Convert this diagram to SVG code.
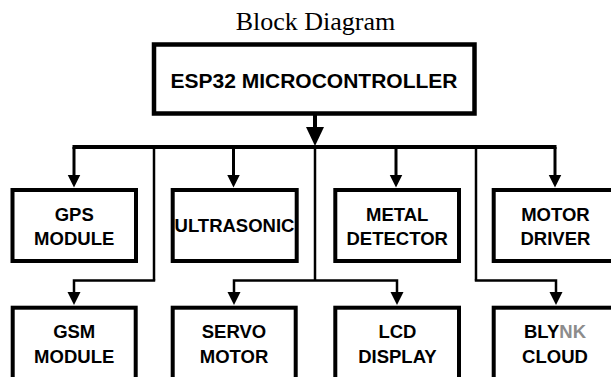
<svg xmlns="http://www.w3.org/2000/svg" width="611" height="377" viewBox="0 0 611 377">
<style>
.box{fill:#fff;stroke:#000;stroke-width:4}
.main{fill:#fff;stroke:#000;stroke-width:4.5}
.lbl{font-family:"Liberation Sans",Arial,sans-serif;font-weight:bold;font-size:18.5px;fill:#000;text-anchor:middle}
.title{font-family:"Liberation Serif","Times New Roman",serif;font-size:26px;fill:#000;text-anchor:middle}
.bus{stroke:#000;stroke-width:4;fill:none}
.drop{stroke:#000;stroke-width:3;fill:none;marker-end:url(#arr)}
.thin{stroke:#000;stroke-width:2.5;fill:none}
.link{stroke:#000;stroke-width:2.5;fill:none;marker-end:url(#arr)}
</style>
<defs>
<marker id="big" markerUnits="userSpaceOnUse" markerWidth="20" markerHeight="19" refX="4" refY="9" orient="auto">
<path d="M0,0 L19,9 L0,18 z" fill="#000"/>
</marker>
<marker id="arr" markerUnits="userSpaceOnUse" markerWidth="14" markerHeight="14" refX="3" refY="6.5" orient="auto">
<path d="M0,0 L13,6.5 L0,13 z" fill="#000"/>
</marker>
</defs>
<rect width="611" height="377" fill="#fff"/>
<text class="title" x="315.5" y="29.5">Block Diagram</text>

<g id="connectors">
<line x1="315" y1="114" x2="315" y2="131" stroke="#000" stroke-width="4" marker-end="url(#big)"/>
<line class="bus" x1="72.5" y1="147" x2="556.5" y2="147"/>
<line class="drop" x1="74" y1="147" x2="74" y2="177.5"/>
<line class="drop" x1="233.5" y1="147" x2="233.5" y2="177.5"/>
<line class="drop" x1="396" y1="147" x2="396" y2="177.5"/>
<line class="drop" x1="555" y1="147" x2="555" y2="177.5"/>
<line class="thin" x1="154" y1="147" x2="154" y2="280.5"/>
<line class="thin" x1="315" y1="147" x2="315" y2="280.5"/>
<line class="thin" x1="476" y1="147" x2="476" y2="280.5"/>
<path class="link" d="M155.2,280.5 H74 V295"/>
<path class="link" d="M315,280.5 H234 V295"/>
<path class="link" d="M315,280.5 H397 V295"/>
<path class="link" d="M474.8,280.5 H556 V295"/>
</g>

<g id="esp32">
<rect class="main" x="154" y="44.5" width="320.5" height="69"/>
<text class="lbl" x="314" y="88" style="font-size:21px">ESP32 MICROCONTROLLER</text>
</g>

<g id="gps">
<rect class="box" x="12.5" y="190" width="123.5" height="71"/>
<text class="lbl" x="74.2" y="220.7">GPS</text>
<text class="lbl" x="74.2" y="245">MODULE</text>
</g>
<g id="ultrasonic">
<rect class="box" x="172.7" y="190" width="124" height="71"/>
<text class="lbl" x="234.5" y="231.7">ULTRASONIC</text>
</g>
<g id="metal">
<rect class="box" x="335.3" y="190" width="123.7" height="71"/>
<text class="lbl" x="397.2" y="220.7">METAL</text>
<text class="lbl" x="397.2" y="245">DETECTOR</text>
</g>
<g id="motor">
<rect class="box" x="493.7" y="190" width="124" height="71"/>
<text class="lbl" x="555.4" y="220.7">MOTOR</text>
<text class="lbl" x="555.4" y="245">DRIVER</text>
</g>

<g id="gsm">
<rect class="box" x="12.7" y="307.7" width="123" height="80"/>
<text class="lbl" x="74.2" y="337.7">GSM</text>
<text class="lbl" x="74.2" y="362.7">MODULE</text>
</g>
<g id="servo">
<rect class="box" x="172.7" y="307.7" width="123" height="80"/>
<text class="lbl" x="234" y="337.7">SERVO</text>
<text class="lbl" x="234" y="362.7">MOTOR</text>
</g>
<g id="lcd">
<rect class="box" x="335.3" y="307.7" width="123.7" height="80"/>
<text class="lbl" x="397.4" y="337.7">LCD</text>
<text class="lbl" x="397.4" y="362.7">DISPLAY</text>
</g>
<g id="blynk">
<rect class="box" x="493.7" y="307.7" width="124" height="80"/>
<text class="lbl" x="555" y="337.7">BLY<tspan fill="#8c8c8c">NK</tspan></text>
<text class="lbl" x="555" y="362.7">CLOUD</text>
</g>
</svg>
